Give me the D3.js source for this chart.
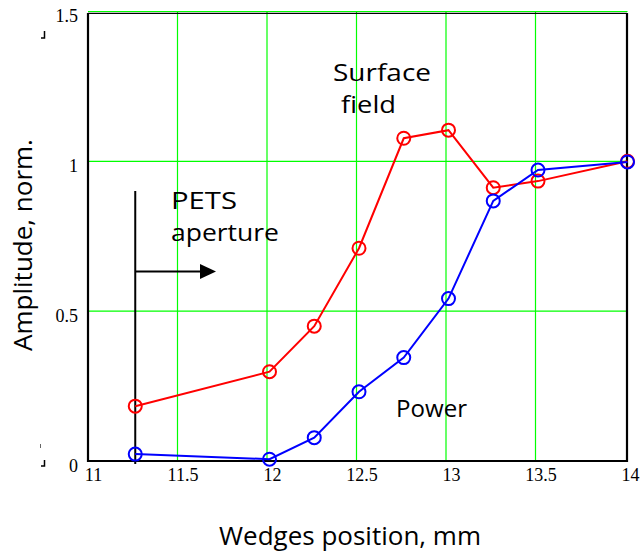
<!DOCTYPE html>
<html>
<head>
<meta charset="utf-8">
<script src="https://cdn.jsdelivr.net/npm/d3@7"></script>
<style>
  html, body { margin: 0; padding: 0; background: #fff; }
  svg { display: block; }
</style>
</head>
<body>
<svg id="chart" width="643" height="554"></svg>
<script>
// Wedge position scan, normalized amplitudes
const positions    = [11.25, 12, 12.25, 12.5, 12.75, 13, 13.25, 13.5, 14];
const surfaceField = [0.183, 0.298, 0.450, 0.710, 1.077, 1.104, 0.912, 0.934, 1.0];
const power        = [0.023, 0.006, 0.078, 0.231, 0.345, 0.542, 0.868, 0.971, 0.998];
const xTicks = [11, 11.5, 12, 12.5, 13, 13.5, 14];
const yTicks = [0, 0.5, 1, 1.5];
const apertureStart = 11.25;

const svg = d3.select("#chart");
const handFont = "'Open Sans', 'DejaVu Sans', sans-serif";
const tickFont = "'Liberation Serif', 'Times New Roman', serif";

const x = d3.scaleLinear().domain([11, 14]).range([90.5, 627.5]);
const y = d3.scaleLinear().domain([0, 1.5]).range([461, 11.5]);
const gridShift = -2.5;

// grid lines
const grid = svg.append("g").attr("transform", `translate(${gridShift},0)`);
grid.selectAll("line.v").data(xTicks.slice(1, -1)).join("line")
  .attr("x1", d => x(d)).attr("x2", d => x(d))
  .attr("y1", y(0)).attr("y2", y(1.5))
  .attr("stroke", "#00ff00").attr("stroke-width", 1.2);
grid.selectAll("line.h").data(yTicks.slice(1)).join("line")
  .attr("x1", x(11)).attr("x2", x(14) - gridShift)
  .attr("y1", d => y(d)).attr("y2", d => y(d))
  .attr("stroke", "#00ff00").attr("stroke-width", 1.2);

// frame
const left = x(11) + gridShift, right = x(14) - 0.5;
svg.append("path")
  .attr("d", `M${left},${y(1.5) + 1.5} V${y(0)} H${right} V${y(1.5) + 1.5}`)
  .attr("fill", "none").attr("stroke", "#000").attr("stroke-width", 2.2);
svg.append("line")
  .attr("x1", left).attr("x2", right)
  .attr("y1", y(1.5) + 1.8).attr("y2", y(1.5) + 1.8)
  .attr("stroke", "#000").attr("stroke-width", 1.2);

// tick labels
const xAxis = d3.axisBottom(x).tickValues(xTicks).tickSize(0).tickFormat(d3.format("~g"));
const gx = svg.append("g").attr("transform", `translate(2.5,${y(0) + 4})`).call(xAxis);
gx.select(".domain").remove();
gx.selectAll("text").attr("font-family", tickFont).attr("font-size", 18).attr("fill", "#000");

const yAxis = d3.axisLeft(y).tickValues(yTicks).tickSize(0).tickFormat(d3.format("~g"));
const gy = svg.append("g").attr("transform", `translate(${left - 7},4.5)`).call(yAxis);
gy.select(".domain").remove();
gy.selectAll("text").attr("font-family", tickFont).attr("font-size", 18).attr("fill", "#000");

// aperture marker
svg.append("line")
  .attr("x1", x(apertureStart)).attr("x2", x(apertureStart))
  .attr("y1", 191).attr("y2", y(0) + 3)
  .attr("stroke", "#000").attr("stroke-width", 2);
svg.append("line")
  .attr("x1", x(apertureStart)).attr("x2", 202)
  .attr("y1", 271.5).attr("y2", 271.5)
  .attr("stroke", "#000").attr("stroke-width", 2);
svg.append("path")
  .attr("d", "M200,264 L216,271.5 L200,279 Z").attr("fill", "#000");

// series
const series = [
  { values: surfaceField, color: "#ff0000" },
  { values: power, color: "#0000ff" }
];
const line = d3.line().x(d => x(d[0])).y(d => y(d[1]));
series.forEach(s => {
  const pts = positions.map((p, i) => [p, s.values[i]]);
  svg.append("path").datum(pts)
    .attr("d", line).attr("fill", "none")
    .attr("stroke", s.color).attr("stroke-width", 2);
  svg.append("g").selectAll("circle").data(pts).join("circle")
    .attr("cx", d => x(d[0])).attr("cy", d => y(d[1])).attr("r", 6.5)
    .attr("fill", "none").attr("stroke", s.color).attr("stroke-width", 2);
});

// annotations: wide hand-lettered style, stretched to a fixed width
const note = (txt, tx, ty, w) => svg.append("text")
  .attr("x", tx).attr("y", ty).text(txt)
  .attr("font-family", handFont).attr("font-size", 23).attr("fill", "#000")
  .attr("textLength", w).attr("lengthAdjust", "spacingAndGlyphs");
note("PETS", 171, 209, 66);
note("aperture", 171, 241, 108);
note("Surface", 333, 81, 98);
note("field", 341, 113, 55);
note("Power", 396, 417, 71);

// axis titles
svg.append("text").attr("x", 350).attr("y", 545).attr("text-anchor", "middle")
  .attr("font-family", handFont).attr("font-size", 26).attr("fill", "#000")
  .text("Wedges position, mm");
svg.append("text").attr("transform", "translate(32,245) rotate(-90)")
  .attr("text-anchor", "middle")
  .attr("font-family", handFont).attr("font-size", 26).attr("fill", "#000")
  .text("Amplitude, norm.");

// small corner marks at the left margin
svg.append("path").attr("d", "M44.5,31 V38 H41").attr("fill", "none").attr("stroke", "#000").attr("stroke-width", 1.5);
svg.append("path").attr("d", "M44.5,460 V466 H41").attr("fill", "none").attr("stroke", "#000").attr("stroke-width", 1.5);
svg.append("path").attr("d", "M40.5,444 V448").attr("fill", "none").attr("stroke", "#666").attr("stroke-width", 1);
</script>
</body>
</html>
